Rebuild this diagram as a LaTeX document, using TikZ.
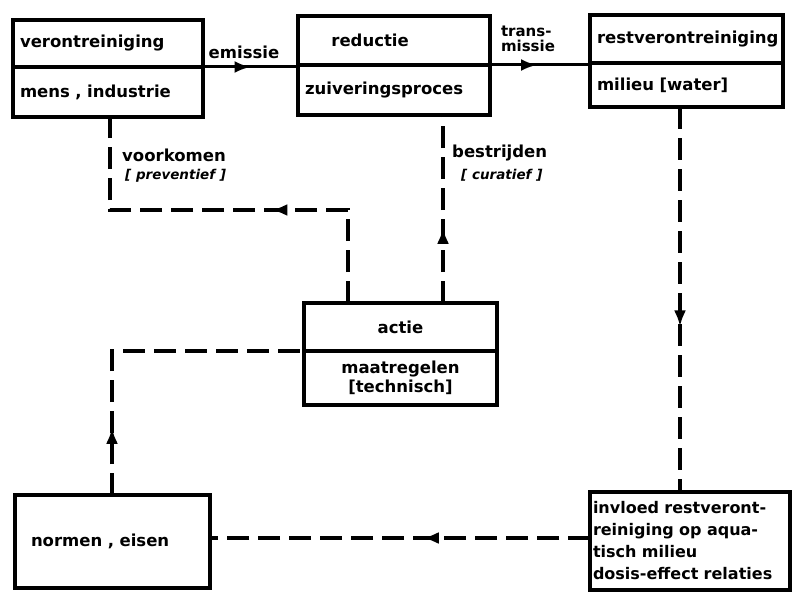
\documentclass[tikz,border=0pt]{standalone}
\usepackage{fontspec}
\setmainfont{DejaVu Sans}
\usetikzlibrary{arrows.meta,positioning,decorations.markings}

\begin{document}
\begin{tikzpicture}[
  x=1pt, y=-1pt,
  font=\bfseries\fontsize{16.5}{21}\selectfont,
  box/.style={draw, line width=3.8pt, outer sep=0pt, inner xsep=7pt, inner ysep=2pt, align=left},
  link/.style={line width=3.2pt, dash pattern=on 22pt off 9pt},
  midarr/.style={postaction={decorate}, decoration={markings,
      mark=at position #1 with {\arrow{Latex[length=16pt,width=12pt]}}}},
  lbl/.style={inner sep=1pt},
  note/.style={inner sep=1pt, font=\bfseries\itshape\fontsize{13.5}{15}\selectfont}
]
\useasboundingbox (0,0) rectangle (792,594);

% top row
\node[box, text width=176pt, minimum height=47pt] (vtop) at (108,43.5) {verontreiniging};
\node[box, text width=176pt, minimum height=50pt, below=0pt of vtop] (vbot) {mens , industrie};
\node[box, text width=178pt, minimum height=49pt] (rtop) at (394,40.5) {\hspace*{1.6em}reductie};
\node[box, text width=178pt, minimum height=50pt, below=0pt of rtop] (rbot) {zuiveringsproces};
\node[box, text width=179pt, minimum height=48pt] (stop) at (686.5,39) {restverontreiniging};
\node[box, text width=179pt, minimum height=44pt, below=0pt of stop] (sbot) {milieu [water]};

% middle
\node[box, align=center, text width=179pt, minimum height=48pt] (atop) at (400.5,327) {actie};
\node[box, align=center, text width=179pt, minimum height=54pt, below=0pt of atop,
  font=\bfseries\fontsize{16.5}{19}\selectfont] (abot) {maatregelen\\{[technisch]}};

% bottom row
\node[box, inner xsep=16pt, text width=163pt, minimum height=93pt] (norm) at (112.5,541.5) {normen , eisen};
\node[box, inner xsep=3pt, text width=194pt, minimum height=98pt,
  font=\bfseries\fontsize{16}{22}\selectfont] (invl) at (690,541)
  {invloed restveront-\\reiniging op aqua-\\tisch milieu\\dosis-effect relaties};

% labels
\node[lbl] (emis) at (244,52) {emissie};
\node[lbl, align=left, font=\bfseries\fontsize{15}{15}\selectfont] (trans) at (528,39) {trans-\\missie};
\node[lbl, anchor=west] (voork) at (121,155) {voorkomen};
\node[note, anchor=west] (prev) at (124,176) {[ preventief ]};
\node[lbl, anchor=west] (bestr) at (451,153) {bestrijden};
\node[note, anchor=west] (cura) at (460,175) {[ curatief ]};

\coordinate (c1) at (348,210);
\coordinate (c2) at (110,210);
\coordinate (c3) at (112,351);

\draw[line width=3pt, midarr=0.5] (vtop.south east) -- (vtop.south east -| rtop.west);
\draw[line width=3pt, midarr=0.47] (rtop.south east) -- (rtop.south east -| stop.west);
\draw[link, midarr=0.4] (atop.north -| c1) -- (c1) -- (c2) -- (c2 |- vbot.south);
\draw[link, midarr=0.4] (atop.north -| 443,0) -- (rbot.south -| 443,0);
\draw[link, midarr=0.2] (norm.north -| c3) -- (c3) -- (abot.north west);
\draw[link, midarr=0.57] (sbot.south -| 680,0) -- (invl.north -| 680,0);
\draw[link, midarr=0.44] (invl.west |- 0,538) -- (norm.east |- 0,538);
\end{tikzpicture}
\end{document}
